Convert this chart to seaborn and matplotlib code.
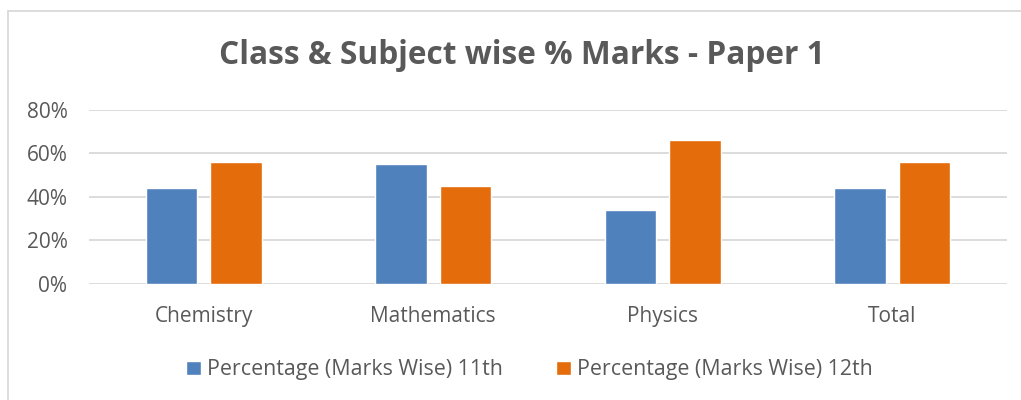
import matplotlib
matplotlib.use("Agg")
import matplotlib.pyplot as plt
import matplotlib.ticker as mticker
from matplotlib.lines import Line2D
import seaborn as sns
import pandas as pd

# chart data
subjects = ["Chemistry", "Mathematics", "Physics", "Total"]
series_names = ["Percentage (Marks Wise) 11th", "Percentage (Marks Wise) 12th"]
marks_11th = [0.44, 0.55, 0.34, 0.44]
marks_12th = [0.56, 0.45, 0.66, 0.56]

df = pd.DataFrame({
    "Subject": subjects * 2,
    "Series": [series_names[0]] * 4 + [series_names[1]] * 4,
    "Value": marks_11th + marks_12th,
})

sns.set_style("white")
plt.rcParams["font.family"] = ["Open Sans", "DejaVu Sans"]

text_color = "#595959"
grid_color = "#D9D9D9"
palette = {series_names[0]: "#4F81BD", series_names[1]: "#E46C0A"}

fig = plt.figure(figsize=(10.21, 4.0), dpi=100)
ax = fig.add_axes([89 / 1021, 1 - 283.5 / 400, 918 / 1021, (283.5 - 110) / 400])

sns.barplot(data=df, x="Subject", y="Value", hue="Series", order=subjects,
            hue_order=series_names, palette=palette, width=0.56, gap=0.2,
            saturation=1, ax=ax, zorder=3)

ax.set_ylim(0, 0.8)
ax.set_xlim(-0.5, 3.5)
ax.yaxis.set_major_locator(mticker.MultipleLocator(0.2))
ax.yaxis.set_major_formatter(mticker.PercentFormatter(1.0, decimals=0))
ax.grid(axis="y", color=grid_color, linewidth=1.3, zorder=0)
ax.set_xlabel("")
ax.set_ylabel("")
for s in ax.spines.values():
    s.set_visible(False)
ax.tick_params(axis="both", length=0, labelsize=15, colors=text_color)
ax.tick_params(axis="y", pad=15.5)
ax.tick_params(axis="x", pad=16)

leg = ax.legend(loc="center", bbox_to_anchor=(529.5 / 1021, (400 - 370) / 400),
                bbox_transform=fig.transFigure, ncol=2, frameon=False,
                fontsize=15.4, handlelength=0.67, handleheight=0.67,
                handletextpad=0.3, columnspacing=2.5)
for t in leg.get_texts():
    t.set_color(text_color)

fig.text(522 / 1021, 1 - 55 / 400, "Class & Subject wise % Marks - Paper 1",
         ha="center", va="center", fontsize=22.8, fontweight="bold", color=text_color)

# chart area border (top and left edges visible)
fig.add_artist(Line2D([8 / 1021, 1.0], [1 - 11 / 400] * 2, transform=fig.transFigure,
                      color=grid_color, linewidth=1.3))
fig.add_artist(Line2D([8 / 1021] * 2, [0, 1 - 11 / 400], transform=fig.transFigure,
                      color=grid_color, linewidth=1.3))

fig.savefig("out.png", dpi=100)
